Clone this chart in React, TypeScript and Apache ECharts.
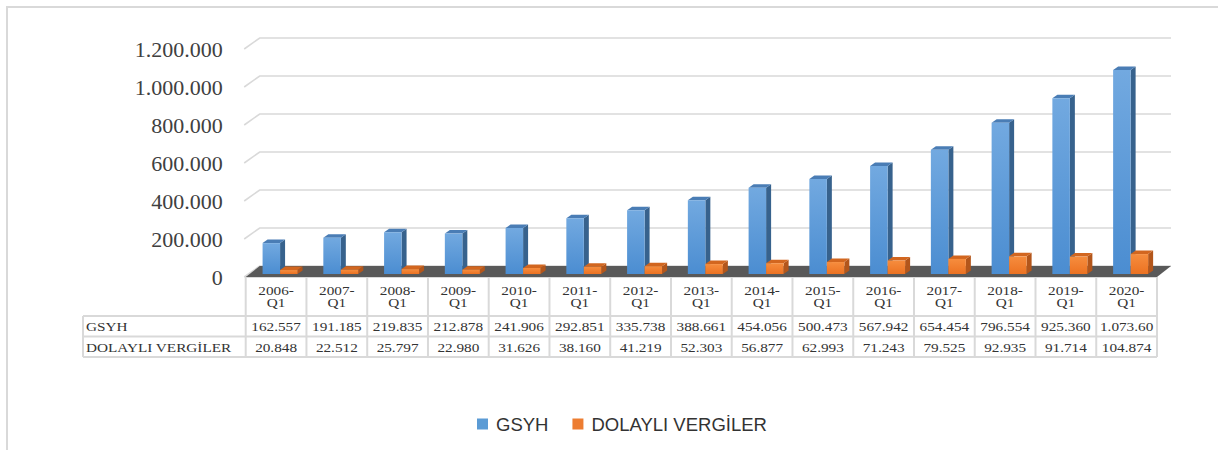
import React, { useEffect, useRef } from 'react';
import * as echarts from 'echarts';

const categories = ['2006-Q1', '2007-Q1', '2008-Q1', '2009-Q1', '2010-Q1', '2011-Q1', '2012-Q1', '2013-Q1', '2014-Q1', '2015-Q1', '2016-Q1', '2017-Q1', '2018-Q1', '2019-Q1', '2020-Q1'];
const gsyh = [162557, 191185, 219835, 212878, 241906, 292851, 335738, 388661, 454056, 500473, 567942, 654454, 796554, 925360, 1073600];
const dolayli = [20848, 22512, 25797, 22980, 31626, 38160, 41219, 52303, 56877, 62993, 71243, 79525, 92935, 91714, 104874];
const seriesNames = ['GSYH', 'DOLAYLI VERGİLER'];
const yTicks = [0, 200000, 400000, 600000, 800000, 1000000, 1200000];

const fmt = (n: number) => String(n).replace(/\B(?=(\d{3})+(?!\d))/g, '.');

// layout
const W = 1218, H = 450;
const GL = 245.7, GR = 1157, GT = 49, GH = 228;
const WALL_DX = 14, WALL_DY = -11;
const BAR_OFF_X = 4, BAR_OFF_Y = -3;
const BAR_W = 17.5, BAR_DX = 5, BAR_DY = -3.5;
const T_TOP = 277, T_R1 = 316, T_R2 = 336.5, T_BOT = 357, T_LEFT = 83;
const LINE = '#d9d9d9';
const TXT = '#404040';

const palettes = [
  { front: ['#72a9e0', '#4b8dd1'], side: '#37628d', top: '#4a7db5', legend: '#5b9bd5' },
  { front: ['#f68d3e', '#ec7222'], side: '#b3561b', top: '#d2661f', legend: '#ed7d31' },
];

function barRender(side: number) {
  const pal = palettes[side];
  return (params: any, api: any) => {
    const i = api.value(0);
    const v = api.value(1);
    const base = api.coord([i, 0]);
    const top = api.coord([i, v]);
    const c = base[0] + BAR_OFF_X;
    const x0 = side === 0 ? c - BAR_W : c;
    const x1 = x0 + BAR_W;
    const yb = base[1] + BAR_OFF_Y;
    const yt = top[1] + BAR_OFF_Y;
    return {
      type: 'group',
      children: [
        {
          type: 'polygon',
          shape: { points: [[x1, yt], [x1 + BAR_DX, yt + BAR_DY], [x1 + BAR_DX, yb + BAR_DY], [x1, yb]] },
          style: { fill: pal.side },
        },
        {
          type: 'polygon',
          shape: { points: [[x0, yt], [x1, yt], [x1 + BAR_DX, yt + BAR_DY], [x0 + BAR_DX, yt + BAR_DY]] },
          style: { fill: pal.top },
        },
        {
          type: 'rect',
          shape: { x: x0, y: yt, width: BAR_W, height: yb - yt },
          style: {
            fill: new echarts.graphic.LinearGradient(0, 0, 0, 1, [
              { offset: 0, color: pal.front[0] },
              { offset: 1, color: pal.front[1] },
            ]),
          },
        },
      ],
    };
  };
}

function gridRender(params: any, api: any) {
  const v = api.value(1);
  const p = api.coord([0, v]);
  const bw = api.size([1, 0])[0];
  const left = p[0] - bw / 2;
  const right = left + bw * categories.length;
  return {
    type: 'polyline',
    shape: { points: [[left - 1.5, p[1]], [left + WALL_DX, p[1] + WALL_DY], [right + WALL_DX, p[1] + WALL_DY]] },
    style: { stroke: LINE, lineWidth: 1.6, fill: 'none' },
  };
}

function floorRender(params: any, api: any) {
  const p = api.coord([0, 0]);
  const bw = api.size([1, 0])[0];
  const left = p[0] - bw / 2;
  const right = left + bw * categories.length;
  return {
    type: 'polygon',
    shape: { points: [[left, p[1]], [right, p[1]], [right + WALL_DX, p[1] + WALL_DY], [left + WALL_DX, p[1] + WALL_DY]] },
    style: { fill: '#595959' },
  };
}

function tableGraphics() {
  const els: any[] = [];
  const colW = (GR - GL) / categories.length;
  const line = (x1: number, y1: number, x2: number, y2: number) =>
    els.push({ type: 'line', shape: { x1, y1, x2, y2 }, style: { stroke: LINE, lineWidth: 2 }, silent: true });
  line(GL, T_TOP, GR, T_TOP);
  line(T_LEFT, T_R1, GR, T_R1);
  line(T_LEFT, T_R2, GR, T_R2);
  line(T_LEFT, T_BOT, GR, T_BOT);
  line(T_LEFT, T_R1, T_LEFT, T_BOT);
  for (let k = 0; k <= categories.length; k++) line(GL + k * colW, T_TOP, GL + k * colW, T_BOT);
  const SX = 1.13;
  const font = '13.5px "Liberation Serif", "Times New Roman", serif';
  const txt = (text: string, x: number, y: number, align: string, width?: number) =>
    els.push({
      type: 'text',
      x,
      y,
      scaleX: SX,
      silent: true,
      style: {
        text,
        font,
        fill: '#333333',
        align,
        verticalAlign: 'middle',
        ...(width ? { width, overflow: 'truncate', ellipsis: '' } : {}),
      },
    });
  categories.forEach((c, k) => {
    const cx = GL + (k + 0.5) * colW;
    const parts = c.split('-');
    txt(parts[0] + '-', cx, 290.7, 'center');
    txt(parts[1], cx, 302.3, 'center');
    txt(fmt(gsyh[k]), cx, (T_R1 + T_R2) / 2, 'center', (colW - 2) / SX);
    txt(fmt(dolayli[k]), cx, (T_R2 + T_BOT) / 2 + 0.5, 'center', (colW - 2) / SX);
  });
  txt(seriesNames[0], T_LEFT + 3, (T_R1 + T_R2) / 2, 'left');
  txt(seriesNames[1], T_LEFT + 3, (T_R2 + T_BOT) / 2 + 0.5, 'left');
  els.push({
    type: 'rect',
    shape: { x: 7, y: 7, width: W + 20, height: H + 20 },
    style: { stroke: LINE, lineWidth: 2, fill: 'none' },
    silent: true,
  });
  return els;
}

export default function App() {
  const ref = useRef<HTMLDivElement>(null);
  useEffect(() => {
    document.body.style.margin = '0';
    const chart = echarts.init(ref.current!, undefined, { renderer: 'svg' });
    const option: any = {
      animation: false,
      backgroundColor: '#ffffff',
      grid: { left: GL, width: GR - GL, top: GT, height: GH },
      xAxis: {
        type: 'category',
        data: categories,
        show: false,
        boundaryGap: true,
      },
      yAxis: {
        type: 'value',
        min: 0,
        max: yTicks[yTicks.length - 1],
        interval: yTicks[1] - yTicks[0],
        axisLine: { show: false },
        axisTick: { show: false },
        splitLine: { show: false },
        axisLabel: {
          margin: 23,
          color: TXT,
          fontSize: 22,
          fontFamily: '"Liberation Serif", "Times New Roman", serif',
          formatter: (v: number) => fmt(v),
        },
      },
      legend: {
        data: seriesNames,
        icon: 'rect',
        left: 472,
        top: 408,
        itemWidth: 11,
        itemHeight: 11,
        itemGap: 24,
        textStyle: {
          color: '#333333',
          fontSize: 18.5,
          fontFamily: '"Liberation Sans", Arial, sans-serif',
          padding: [0, 0, 0, 3],
          lineHeight: 22,
        },
      },
      series: [
        {
          type: 'custom',
          name: 'grid',
          z: 0,
          silent: true,
          renderItem: gridRender,
          data: yTicks.map((v) => [0, v]),
          encode: { x: 0, y: 1 },
        },
        {
          type: 'custom',
          name: 'floor',
          z: 1,
          silent: true,
          renderItem: floorRender,
          data: [[0, 0]],
          encode: { x: 0, y: 1 },
        },
        {
          type: 'custom',
          name: seriesNames[0],
          z: 2,
          itemStyle: { color: palettes[0].legend },
          renderItem: barRender(0),
          data: gsyh.map((v, i) => [i, v]),
          encode: { x: 0, y: 1 },
        },
        {
          type: 'custom',
          name: seriesNames[1],
          z: 3,
          itemStyle: { color: palettes[1].legend },
          renderItem: barRender(1),
          data: dolayli.map((v, i) => [i, v]),
          encode: { x: 0, y: 1 },
        },
      ],
      graphic: tableGraphics(),
    };
    chart.setOption(option);
    return () => chart.dispose();
  }, []);
  return <div ref={ref} style={{ width: W, height: H }} />;
}
